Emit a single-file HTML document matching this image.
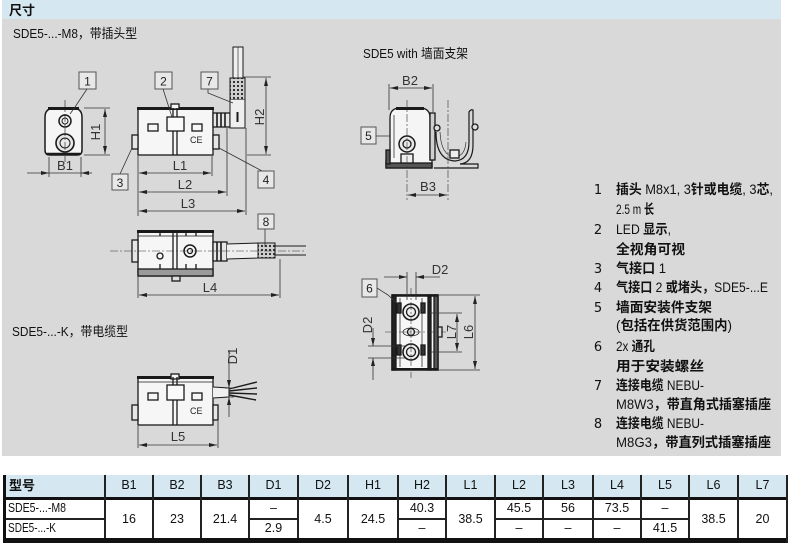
<!DOCTYPE html>
<html><head><meta charset="utf-8">
<style>
html,body{margin:0;padding:0;background:#fff;}
svg{display:block;}
</style></head>
<body>
<svg xmlns="http://www.w3.org/2000/svg" width="790" height="546" viewBox="0 0 790 546" font-family="'Liberation Sans','Noto Sans CJK SC',sans-serif">
<defs>
<marker id="a" markerUnits="userSpaceOnUse" viewBox="0 0 8 4" refX="8" refY="2" markerWidth="8" markerHeight="4" orient="auto-start-reverse"><path d="M0,0L8,2L0,4z" fill="#222"/></marker>
<pattern id="dots" width="4" height="4" patternUnits="userSpaceOnUse"><rect width="4" height="4" fill="#cfcfcf"/><rect x="1" y="1" width="2" height="2" fill="#333"/></pattern>
</defs>
<rect width="790" height="546" fill="#fff"/>
<rect x="2" y="0" width="779" height="19" fill="#d5e8f2"/>
<rect x="2" y="19" width="779" height="437" fill="#d9d9d9"/>
<text x="9" y="15" font-size="13" font-weight="bold" fill="#111">尺寸</text>

<!-- titles -->
<text x="13" y="38" font-size="13" fill="#111" textLength="124" lengthAdjust="spacingAndGlyphs">SDE5-...-M8，带插头型</text>
<text x="12" y="336" font-size="13" fill="#111" textLength="116" lengthAdjust="spacingAndGlyphs">SDE5-...-K，带电缆型</text>
<text x="363" y="58" font-size="13" fill="#111" textLength="105" lengthAdjust="spacingAndGlyphs">SDE5 with 墙面支架</text>

<!-- ============ Drawing 1: end view ============ -->
<g stroke="#1a1a1a" fill="none">
<path d="M45,117 Q45,108 55,108 L72,108 Q82,108 82,117 L82,150 Q82,155 77,155 L50,155 Q45,155 45,150Z" fill="#f5f5f5" stroke-width="1.5"/>
<line x1="48" y1="108.5" x2="79" y2="108.5" stroke-width="3"/>
<line x1="47" y1="154" x2="80" y2="154" stroke-width="2.5"/>
<circle cx="65" cy="121" r="6" stroke-width="1.5"/>
<circle cx="65" cy="121" r="3"/>
<circle cx="65" cy="143" r="9" stroke-width="1.6" fill="#e8e8e8"/>
<circle cx="65" cy="143" r="5"/>
<line x1="65" y1="100" x2="65" y2="162" stroke-width=".6" stroke-dasharray="8 2 2 2"/>
</g>
<g stroke="#333" stroke-width=".8" fill="none">
<path d="M84,108H110M84,155H110M49,157V177M81,157V177M49,173H81"/>
<line x1="105" y1="109" x2="105" y2="154" marker-start="url(#a)" marker-end="url(#a)"/>
<line x1="27" y1="173" x2="49" y2="173" marker-end="url(#a)"/>
<line x1="92" y1="173" x2="81" y2="173" marker-end="url(#a)"/>
<path d="M87,89L75,107L70,114"/>
</g>
<text transform="translate(100,132) rotate(-90)" font-size="13" fill="#333" text-anchor="middle">H1</text>
<text x="65" y="170" font-size="13" fill="#333" text-anchor="middle">B1</text>
<rect x="79" y="72" width="17" height="17" fill="#e8e8e8" stroke="#555"/>
<text x="87.5" y="85.5" font-size="12" text-anchor="middle" fill="#222">1</text>

<!-- ============ Drawing 2: side view ============ -->
<g stroke="#1a1a1a" fill="none" stroke-width="1.3">
<rect x="138" y="108" width="75" height="47" fill="#f6f6f6"/>
<line x1="137" y1="108.5" x2="214" y2="108.5" stroke-width="3"/>
<rect x="171" y="104" width="8" height="5" fill="#f6f6f6"/>
<path d="M173,108V117M177,108V117M173,131V155M177,131V155"/>
<rect x="167" y="117" width="17" height="14" fill="#fafafa"/>
<rect x="148" y="124" width="10" height="7"/>
<rect x="192" y="124" width="10" height="7"/>
<rect x="132" y="135" width="6" height="14" fill="#e6e6e6"/>
<rect x="213" y="135" width="6" height="14" fill="#e6e6e6"/>
<rect x="213" y="113" width="17" height="14" fill="#e6e6e6"/>
<path d="M217,113V127M221,113V127M225,113V127" stroke-width="1.6"/>
<rect x="233" y="47" width="10" height="31" fill="#efefef" stroke-width="1"/>
<line x1="238" y1="47" x2="238" y2="78" stroke-width=".6"/>
<rect x="230" y="78" width="15" height="22" fill="url(#dots)" stroke-width="1"/>
<path d="M230,100V128H245V100" fill="#efefef" stroke-width="1"/>
<line x1="237.5" y1="112" x2="237.5" y2="122" stroke-width="2"/>
</g>
<text x="190" y="143" font-size="9" fill="#222">CE</text>
<g stroke="#333" stroke-width=".8" fill="none">
<path d="M138,156V216M212,156V176M227,128V196M246,128V215M243,77H271M247,155H271"/>
<line x1="266" y1="78" x2="266" y2="154" marker-start="url(#a)" marker-end="url(#a)"/>
<line x1="139" y1="173" x2="211" y2="173" marker-start="url(#a)" marker-end="url(#a)"/>
<line x1="139" y1="192" x2="226" y2="192" marker-start="url(#a)" marker-end="url(#a)"/>
<line x1="139" y1="211" x2="245" y2="211" marker-start="url(#a)" marker-end="url(#a)"/>
<path d="M163,89L172,117M208,89V93L233,103M120,174L132,148M262,171L219,148"/>
</g>
<text transform="translate(264,117) rotate(-90)" font-size="13" fill="#333" text-anchor="middle">H2</text>
<text x="180" y="170" font-size="13" fill="#333" text-anchor="middle">L1</text>
<text x="185" y="189" font-size="13" fill="#333" text-anchor="middle">L2</text>
<text x="188" y="208" font-size="13" fill="#333" text-anchor="middle">L3</text>
<rect x="155" y="72" width="17" height="17" fill="#e8e8e8" stroke="#555"/>
<text x="163.5" y="85.5" font-size="12" text-anchor="middle" fill="#222">2</text>
<rect x="201" y="72" width="17" height="17" fill="#e8e8e8" stroke="#555"/>
<text x="209.5" y="85.5" font-size="12" text-anchor="middle" fill="#222">7</text>
<rect x="112" y="174" width="16" height="16" fill="#e8e8e8" stroke="#555"/>
<text x="120" y="187" font-size="12" text-anchor="middle" fill="#222">3</text>
<rect x="258" y="171" width="16" height="17" fill="#e8e8e8" stroke="#555"/>
<text x="266" y="184" font-size="12" text-anchor="middle" fill="#222">4</text>

<!-- ============ Drawing 3: top view ============ -->
<g stroke="#1a1a1a" fill="none" stroke-width="1.3">
<rect x="138" y="231" width="75" height="45" fill="#f6f6f6"/>
<line x1="137" y1="231.5" x2="214" y2="231.5" stroke-width="3"/>
<line x1="138" y1="236" x2="213" y2="236" stroke-width=".7"/>
<rect x="138" y="269" width="75" height="7" fill="#9a9a9a"/>
<rect x="172" y="276" width="8" height="5" fill="#ddd"/>
<path d="M173,231V269M177,231V269M160,231V236M186,231V236M196,231V236M160,264V269M186,264V269M196,264V269"/>
<circle cx="160" cy="256" r="3"/>
<circle cx="190" cy="251" r="6" stroke-width="1.5"/>
<circle cx="190" cy="251" r="2.5"/>
<rect x="132" y="240" width="6" height="22" fill="#e6e6e6"/>
<rect x="213" y="242" width="14" height="19" fill="#e6e6e6"/>
<path d="M217,242V261M221,242V261" stroke-width="1.6"/>
<path d="M227,244L258,243V258L227,259" fill="#efefef" stroke-width="1"/>
<rect x="258" y="243" width="17" height="15" fill="url(#dots)" stroke-width="1"/>
<path d="M275,246H306M275,255H306" stroke-width="1"/>
</g>
<g stroke="#333" stroke-width=".8" fill="none">
<line x1="110" y1="251" x2="306" y2="251" stroke-width=".6" stroke-dasharray="8 2 2 2"/>
<path d="M138,277V298M280,259V298M265,229V247"/>
<line x1="139" y1="295" x2="279" y2="295" marker-start="url(#a)" marker-end="url(#a)"/>
</g>
<text x="210" y="292" font-size="13" fill="#333" text-anchor="middle">L4</text>
<rect x="258" y="214" width="16" height="15" fill="#e8e8e8" stroke="#555"/>
<text x="266" y="226" font-size="12" text-anchor="middle" fill="#222">8</text>

<!-- ============ Drawing 4: K version ============ -->
<g stroke="#1a1a1a" fill="none" stroke-width="1.3">
<rect x="138" y="377" width="75" height="48" fill="#f6f6f6"/>
<line x1="137" y1="377.5" x2="214" y2="377.5" stroke-width="3"/>
<line x1="138" y1="382" x2="213" y2="382" stroke-width=".7"/>
<rect x="171" y="374" width="8" height="5" fill="#f6f6f6"/>
<path d="M173,377V385M177,377V385M173,400V425M177,400V425"/>
<rect x="167" y="385" width="17" height="15" fill="#fafafa"/>
<rect x="148" y="393" width="10" height="7"/>
<rect x="192" y="393" width="10" height="7"/>
<rect x="132" y="405" width="6" height="15" fill="#e6e6e6"/>
<rect x="213" y="405" width="5" height="15" fill="#e6e6e6"/>
<path d="M213,387L229,388V397L213,398" fill="#efefef" stroke-width="1"/>
<path d="M229,389L257,382M229,391L257,388M229,393L257,394M229,395L256,400" stroke-width="1.4"/>
</g>
<text x="190" y="414" font-size="9" fill="#222">CE</text>
<g stroke="#333" stroke-width=".8" fill="none">
<path d="M138,426V448M218,421V448M225,388H234M225,397H234"/>
<line x1="229" y1="350" x2="229" y2="388" marker-end="url(#a)"/>
<line x1="229" y1="417" x2="229" y2="397" marker-end="url(#a)"/>
<line x1="139" y1="445" x2="217" y2="445" marker-start="url(#a)" marker-end="url(#a)"/>
</g>
<text transform="translate(237,356) rotate(-90)" font-size="13" fill="#333" text-anchor="middle">D1</text>
<text x="178" y="441" font-size="13" fill="#333" text-anchor="middle">L5</text>

<!-- ============ Drawing 5: wall bracket ============ -->
<g stroke="#1a1a1a" fill="none" stroke-width="1.3">
<path d="M390,118 Q390,108 400,108 L420,108 Q430,108 430,118 L430,160 L432,160 L432,168 L386,168 L386,160 L390,160 Z" fill="#f5f5f5"/>
<line x1="396" y1="108.5" x2="424" y2="108.5" stroke-width="3"/>
<line x1="394" y1="115" x2="394" y2="158" stroke-width=".7"/>
<rect x="386" y="163" width="46" height="5" fill="#555"/>
<rect x="386" y="150" width="4" height="14" fill="#555"/>
<circle cx="407" cy="144" r="8" stroke-width="1.5" fill="#e8e8e8"/>
<circle cx="407" cy="144" r="4"/>
<rect x="401" y="154" width="12" height="9" fill="#eee"/>
<rect x="430" y="113" width="5" height="47" fill="#cfcfcf"/>
<circle cx="437" cy="128" r="3" fill="#ddd"/>
<path d="M436,132 Q436,160 455,161 Q469,160 469,142 L469,112 Q471,109 473,110 L473,145 Q473,163 460,164 L478,164 L478,168 L434,168" stroke-width="1.2"/>
<path d="M440,132 Q441,156 455,157 Q465,156 466,142" stroke-width=".6"/>
<rect x="450" y="150" width="9" height="8" fill="#eee"/>
<circle cx="475" cy="127" r="3" fill="#ddd"/>
</g>
<g stroke="#333" stroke-width=".8" fill="none">
<line x1="407" y1="100" x2="407" y2="200" stroke-width=".6" stroke-dasharray="8 2 2 2"/>
<line x1="448" y1="100" x2="448" y2="200" stroke-width=".6" stroke-dasharray="8 2 2 2"/>
<path d="M389,84V110M433,84V112M376,136H390"/>
<line x1="390" y1="88" x2="432" y2="88" marker-start="url(#a)" marker-end="url(#a)"/>
<line x1="408" y1="195" x2="447" y2="195" marker-start="url(#a)" marker-end="url(#a)"/>
</g>
<text x="410" y="85" font-size="13" fill="#333" text-anchor="middle">B2</text>
<text x="428" y="191" font-size="13" fill="#333" text-anchor="middle">B3</text>
<rect x="361" y="127" width="15" height="17" fill="#e8e8e8" stroke="#555"/>
<text x="368.5" y="140" font-size="12" text-anchor="middle" fill="#222">5</text>

<!-- ============ Drawing 6: bottom view ============ -->
<g stroke="#1a1a1a" fill="none" stroke-width="1.3">
<rect x="392" y="295" width="46" height="75" fill="#f7f7f7" stroke-width="1.5"/>
<rect x="392" y="295" width="4" height="75" fill="#222"/>
<rect x="428" y="295" width="3" height="75" fill="#222"/>
<rect x="434" y="295" width="4" height="75" fill="#555"/>
<line x1="392" y1="295.5" x2="438" y2="295.5" stroke-width="2.5"/>
<line x1="392" y1="369" x2="438" y2="369" stroke-width="2"/>
<path d="M400,298V367M422,298V367" stroke-width=".7"/>
<rect x="397" y="303" width="4" height="10" fill="#333"/>
<rect x="397" y="345" width="4" height="10" fill="#333"/>
<rect x="421" y="303" width="4" height="10" fill="#333"/>
<rect x="421" y="345" width="4" height="10" fill="#333"/>
<circle cx="411" cy="312" r="8" stroke-width="1.6" fill="#eee"/>
<circle cx="411" cy="312" r="4.5" stroke-width="1.3"/>
<circle cx="411" cy="352" r="8" stroke-width="1.6" fill="#eee"/>
<circle cx="411" cy="352" r="4.5" stroke-width="1.3"/>
<ellipse cx="411" cy="332" rx="8" ry="4" stroke-width=".8"/>
<circle cx="411" cy="332" r="3.5" fill="#eee"/>
<rect x="438" y="327" width="4" height="10" fill="#ddd"/>
</g>
<g stroke="#333" stroke-width=".8" fill="none">
<line x1="411" y1="288" x2="411" y2="378" stroke-width=".6" stroke-dasharray="8 2 2 2"/>
<line x1="385" y1="332" x2="446" y2="332" stroke-width=".6" stroke-dasharray="8 2 2 2"/>
<path d="M407,272V300M416,272V300M368,346H405M368,358H405M430,313H462M430,352H462M438,295H480M438,370H480M377,288L388,295L400,306"/>
<line x1="384" y1="277" x2="407" y2="277" marker-end="url(#a)"/>
<line x1="440" y1="277" x2="416" y2="277" marker-end="url(#a)"/>
<line x1="373" y1="328" x2="373" y2="346" marker-end="url(#a)"/>
<line x1="373" y1="380" x2="373" y2="358" marker-end="url(#a)"/>
<line x1="457" y1="314" x2="457" y2="351" marker-start="url(#a)" marker-end="url(#a)"/>
<line x1="475" y1="296" x2="475" y2="369" marker-start="url(#a)" marker-end="url(#a)"/>
</g>
<text x="440" y="274" font-size="13" fill="#333" text-anchor="middle">D2</text>
<text transform="translate(372,325) rotate(-90)" font-size="13" fill="#333" text-anchor="middle">D2</text>
<text transform="translate(456,332) rotate(-90)" font-size="13" fill="#333" text-anchor="middle">L7</text>
<text transform="translate(473,332) rotate(-90)" font-size="13" fill="#333" text-anchor="middle">L6</text>
<rect x="362" y="279" width="15" height="18" fill="#e8e8e8" stroke="#555"/>
<text x="369.5" y="292.5" font-size="12" text-anchor="middle" fill="#222">6</text>

<!-- ============ Legend ============ -->
<g font-size="13.5" fill="#111">
<g font-family="'DejaVu Sans',sans-serif" text-anchor="middle" font-size="13">
<text x="598" y="194">1</text>
<text x="598" y="234">2</text>
<text x="598" y="273">3</text>
<text x="598" y="292">4</text>
<text x="598" y="312">5</text>
<text x="598" y="351">6</text>
<text x="598" y="390">7</text>
<text x="598" y="428">8</text>
</g>
<text x="616" y="194" textLength="157" lengthAdjust="spacingAndGlyphs"><tspan font-weight="bold">插头</tspan> M8x1, 3<tspan font-weight="bold">针或电缆</tspan>, 3<tspan font-weight="bold">芯</tspan>,</text>
<text x="616" y="214" textLength="38" lengthAdjust="spacingAndGlyphs">2.5 m <tspan font-weight="bold">长</tspan></text>
<text x="616" y="234" textLength="55" lengthAdjust="spacingAndGlyphs">LED <tspan font-weight="bold">显示</tspan>,</text>
<text x="616" y="254" font-weight="bold" textLength="69" lengthAdjust="spacingAndGlyphs">全视角可视</text>
<text x="616" y="273" textLength="50" lengthAdjust="spacingAndGlyphs"><tspan font-weight="bold">气接口</tspan> 1</text>
<text x="616" y="292" textLength="152" lengthAdjust="spacingAndGlyphs"><tspan font-weight="bold">气接口</tspan> 2 <tspan font-weight="bold">或堵头，</tspan>SDE5-...E</text>
<text x="616" y="312" font-weight="bold" textLength="96" lengthAdjust="spacingAndGlyphs">墙面安装件支架</text>
<text x="616" y="330" textLength="116" lengthAdjust="spacingAndGlyphs">(<tspan font-weight="bold">包括在供货范围内</tspan>)</text>
<text x="616" y="351" textLength="39" lengthAdjust="spacingAndGlyphs">2x <tspan font-weight="bold">通孔</tspan></text>
<text x="616" y="371" font-weight="bold" textLength="88" lengthAdjust="spacingAndGlyphs">用于安装螺丝</text>
<text x="616" y="390" textLength="88" lengthAdjust="spacingAndGlyphs"><tspan font-weight="bold">连接电缆</tspan> NEBU-</text>
<text x="616" y="409" textLength="155" lengthAdjust="spacingAndGlyphs">M8W3<tspan font-weight="bold">，带直角式插塞插座</tspan></text>
<text x="616" y="428" textLength="88" lengthAdjust="spacingAndGlyphs"><tspan font-weight="bold">连接电缆</tspan> NEBU-</text>
<text x="616" y="447" textLength="155" lengthAdjust="spacingAndGlyphs">M8G3<tspan font-weight="bold">，带直列式插塞插座</tspan></text>
</g>

<!-- ============ Table ============ -->
<rect x="3" y="475" width="784" height="22" fill="#d5e8f2"/>
<rect x="3" y="500" width="784" height="38" fill="#fff"/>
<rect x="3" y="497" width="784" height="3" fill="#111"/>
<rect x="3" y="538" width="784" height="5" fill="#111"/>
<rect x="3" y="475" width="3" height="68" fill="#111"/>
<g fill="#222">
<rect x="104" y="475" width="2" height="63"/>
<rect x="152" y="475" width="2" height="63"/>
<rect x="200" y="475" width="2" height="63"/>
<rect x="248" y="475" width="2" height="63"/>
<rect x="297" y="475" width="2" height="63"/>
<rect x="347" y="475" width="2" height="63"/>
<rect x="397" y="475" width="2" height="63"/>
<rect x="445" y="475" width="2" height="63"/>
<rect x="494" y="475" width="2" height="63"/>
<rect x="542" y="475" width="2" height="63"/>
<rect x="592" y="475" width="2" height="63"/>
<rect x="640" y="475" width="2" height="63"/>
<rect x="688" y="475" width="2" height="63"/>
<rect x="737" y="475" width="2" height="63"/>
<rect x="786" y="475" width="2" height="68"/>
<rect x="6" y="518" width="98" height="2"/>
<rect x="249" y="518" width="48" height="2"/>
<rect x="398" y="518" width="47" height="2"/>
<rect x="495" y="518" width="193" height="2"/>
</g>
<g font-size="12.5" fill="#111" text-anchor="middle">
<text x="9" y="490" font-size="13" font-weight="bold" text-anchor="start">型号</text>
<text x="129" y="489">B1</text>
<text x="177" y="489">B2</text>
<text x="225" y="489">B3</text>
<text x="273.5" y="489">D1</text>
<text x="323" y="489">D2</text>
<text x="373" y="489">H1</text>
<text x="422" y="489">H2</text>
<text x="470.5" y="489">L1</text>
<text x="519" y="489">L2</text>
<text x="568" y="489">L3</text>
<text x="617" y="489">L4</text>
<text x="665" y="489">L5</text>
<text x="713.5" y="489">L6</text>
<text x="762.5" y="489">L7</text>

<text x="8" y="512" text-anchor="start" font-size="13" textLength="58" lengthAdjust="spacingAndGlyphs">SDE5-...-M8</text>
<text x="8" y="532" text-anchor="start" font-size="13" textLength="48" lengthAdjust="spacingAndGlyphs">SDE5-...-K</text>

<text x="129" y="523">16</text>
<text x="177" y="523">23</text>
<text x="225" y="523">21.4</text>
<text x="273.5" y="512">–</text>
<text x="273.5" y="532">2.9</text>
<text x="323" y="523">4.5</text>
<text x="373" y="523">24.5</text>
<text x="422" y="512">40.3</text>
<text x="422" y="532">–</text>
<text x="470.5" y="523">38.5</text>
<text x="519" y="512">45.5</text>
<text x="519" y="532">–</text>
<text x="568" y="512">56</text>
<text x="568" y="532">–</text>
<text x="617" y="512">73.5</text>
<text x="617" y="532">–</text>
<text x="665" y="512">–</text>
<text x="665" y="532">41.5</text>
<text x="713.5" y="523">38.5</text>
<text x="762.5" y="523">20</text>
</g>
</svg>
</body></html>
